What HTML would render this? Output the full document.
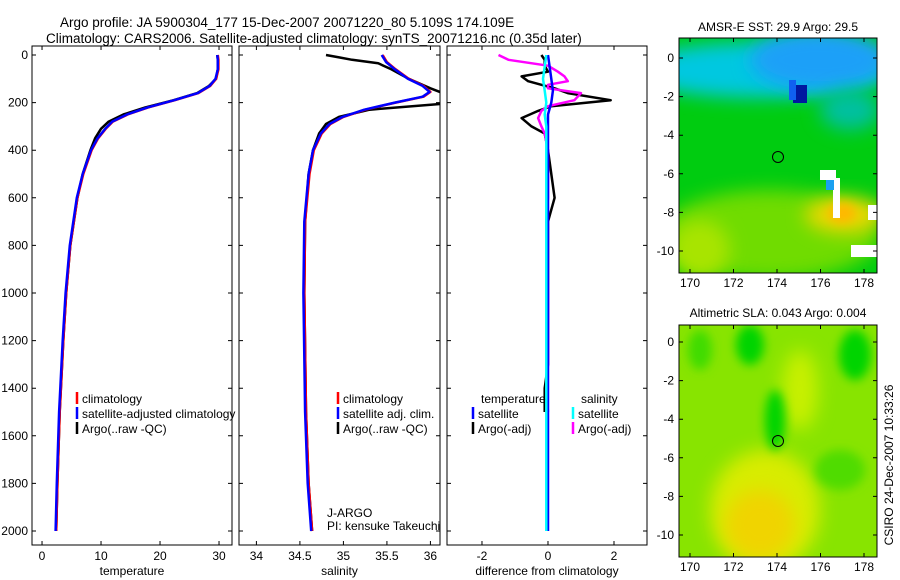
<!DOCTYPE html>
<html><head><meta charset="utf-8"><style>
body{margin:0;background:#fff}
svg{display:block;font-family:"Liberation Sans",sans-serif;font-size:12px}
</style></head><body>
<svg id="fig" width="900" height="580" viewBox="0 0 900 580">
<defs>
<filter id="bl" x="-50%" y="-50%" width="200%" height="200%"><feGaussianBlur stdDeviation="9"/></filter>
<filter id="bl2" x="-50%" y="-50%" width="200%" height="200%"><feGaussianBlur stdDeviation="5"/></filter>
<clipPath id="c1"><rect x="679" y="38" width="198" height="235"/></clipPath>
<clipPath id="c2"><rect x="679" y="325" width="198" height="232"/></clipPath>
<clipPath id="p1"><rect x="32" y="46" width="200" height="499"/></clipPath>
<clipPath id="p2"><rect x="239" y="46" width="201" height="499"/></clipPath>
<clipPath id="p3"><rect x="447" y="46" width="200" height="499"/></clipPath>
</defs>
<text x="60" y="27" font-size="13.5">Argo profile: JA 5900304_177 15-Dec-2007 20071220_80 5.109S 174.109E</text>
<text x="46" y="43" font-size="13.5">Climatology: CARS2006. Satellite-adjusted climatology: synTS_20071216.nc (0.35d later)</text>

<!-- SST map -->
<g clip-path="url(#c1)">
<rect x="679" y="38" width="198" height="235" fill="#00cc10"/>
<ellipse cx="770" cy="235" rx="110" ry="45" fill="#70dc00" filter="url(#bl)"/>
<ellipse cx="700" cy="250" rx="30" ry="30" fill="#a8e400" filter="url(#bl)"/>
<ellipse cx="845" cy="215" rx="40" ry="18" fill="#e8d800" filter="url(#bl)"/>
<ellipse cx="842" cy="213" rx="14" ry="10" fill="#ffb800" filter="url(#bl2)"/>
<ellipse cx="760" cy="70" rx="130" ry="28" fill="#00c8e0" filter="url(#bl)"/>
<ellipse cx="820" cy="60" rx="70" ry="30" fill="#1ea0f8" filter="url(#bl)"/>
<ellipse cx="850" cy="110" rx="30" ry="20" fill="#00c0a0" filter="url(#bl)"/>
<rect x="793" y="85" width="14" height="18" fill="#0018a0"/>
<rect x="789" y="80" width="7" height="20" fill="#1060f0"/>
<rect x="820" y="170" width="16" height="10" fill="#fff"/>
<rect x="833" y="178" width="7" height="40" fill="#fff"/>
<rect x="826" y="180" width="8" height="10" fill="#1aa0f0"/>
<rect x="851" y="245" width="26" height="12" fill="#fff"/>
<rect x="868" y="205" width="9" height="15" fill="#fff"/>
</g>
<rect x="679" y="38" width="198" height="235" fill="none" stroke="#000"/>
<circle cx="778" cy="157" r="5.5" fill="none" stroke="#000"/>
<text x="778" y="31" text-anchor="middle">AMSR-E SST: 29.9 Argo: 29.5</text>

<!-- SLA map -->
<g clip-path="url(#c2)">
<rect x="679" y="325" width="198" height="232" fill="#88e400"/>
<ellipse cx="765" cy="510" rx="55" ry="60" fill="#d8ec00" filter="url(#bl)"/>
<ellipse cx="760" cy="525" rx="35" ry="35" fill="#f0d400" filter="url(#bl)"/>
<ellipse cx="800" cy="390" rx="18" ry="40" fill="#c8f000" filter="url(#bl)"/>
<ellipse cx="775" cy="420" rx="10" ry="30" fill="#00d400" filter="url(#bl2)"/>
<ellipse cx="750" cy="345" rx="14" ry="20" fill="#00d400" filter="url(#bl2)"/>
<ellipse cx="855" cy="355" rx="16" ry="25" fill="#00d400" filter="url(#bl2)"/>
<ellipse cx="700" cy="350" rx="12" ry="20" fill="#40dc00" filter="url(#bl2)"/>
<ellipse cx="840" cy="470" rx="25" ry="20" fill="#50dc00" filter="url(#bl2)"/>
</g>
<rect x="679" y="325" width="198" height="232" fill="none" stroke="#000"/>
<circle cx="778" cy="441" r="5.5" fill="none" stroke="#000"/>
<text x="778" y="317" text-anchor="middle">Altimetric SLA: 0.043 Argo: 0.004</text>
<text transform="translate(893,465) rotate(-90)" text-anchor="middle">CSIRO 24-Dec-2007 10:33:26</text>

<g id="dyn"></g>
</svg>
<script>
const depthTicks=[0,200,400,600,800,1000,1200,1400,1600,1800,2000];
const tempTicks=[0,10,20,30];
const salTicks=[34,34.5,35,35.5,36];
const diffTicks=[-2,0,2];
const lonTicks=[170,172,174,176,178];
const latTicks=[0,-2,-4,-6,-8,-10];

const tempDepth=[0,20,60,100,130,160,190,220,250,280,310,350,400,500,600,800,1000,1200,1500,1800,2000];
const tempClim=[29.8,29.9,29.9,29.5,28.5,26.5,22.5,18,14.5,12,10.8,9.5,8.4,7,6,4.8,4.1,3.6,3,2.6,2.4];
const tempArgo=[29.7,29.8,29.8,29.5,28.3,26.3,22.3,17.5,13.8,11.3,10,9,8.2,6.9,6,4.8,4.1,3.6,3,2.6,2.4];

const salDepth=[0,30,60,100,130,155,175,200,230,260,290,330,400,500,700,1000,1500,1800,2000];
const salClim=[35.45,35.5,35.6,35.75,35.92,36.0,35.92,35.6,35.25,35.0,34.85,34.75,34.66,34.61,34.56,34.55,34.57,34.6,34.64];
const argoSalDepth=[0,10,20,35,60,100,140,175,190,200,230,260,290,330,400,500,700,1000,1500,1800,2000];
const salArgo=[34.8,34.95,35.1,35.4,35.55,35.75,36.0,36.25,36.3,36.3,35.3,34.95,34.8,34.72,34.65,34.6,34.56,34.55,34.57,34.6,34.64];

const diffDepth=[0,20,45,70,90,110,125,140,160,190,215,235,265,300,330,400,600,700,1000,1300,1400,1500];
const tempDiffArgo=[-0.2,-0.1,-0.1,0.0,-0.8,-0.6,-0.2,0.2,0.6,1.9,0.1,-0.3,-0.8,-0.5,-0.1,0.0,0.2,0.0,0.0,0.0,-0.1,-0.1];
const salDiffArgo=[-1.5,-1.2,0.0,0.3,0.5,0.6,0.0,0.0,1.0,0.8,0.0,-0.2,-0.3,-0.2,-0.1,0.0,0.0,-0.05,0.0,0.0,-0.05,0.0];
const satDepth=[0,100,150,200,250,300,2000];
const tempDiffSat=[0.0,0.1,0.15,0.1,0.0,0.0,0.0];
const salDiffSat=[-0.05,-0.15,-0.1,-0.05,-0.1,-0.05,-0.05];

const NS='http://www.w3.org/2000/svg';
const dyn=document.getElementById('dyn');
function mk(tag,at,parent){const e=document.createElementNS(NS,tag);for(const k in at)e.setAttribute(k,at[k]);(parent||dyn).appendChild(e);return e;}
const yD=d=>55+d*0.238;
const panels=[
 {x0:32,x1:232,v0:-1.7,v1:32.2,ticks:tempTicks,label:'temperature',clip:'p1',name:'temperature-panel'},
 {x0:239,x1:440,v0:33.8,v1:36.11,ticks:salTicks,label:'salinity',clip:'p2',name:'salinity-panel'},
 {x0:447,x1:647,v0:-3.06,v1:3,ticks:diffTicks,label:'difference from climatology',clip:'p3',name:'difference-panel'}];
panels.forEach(p=>{p.sx=v=>p.x0+(v-p.v0)/(p.v1-p.v0)*(p.x1-p.x0);});

panels.forEach((p,i)=>{
  const r=mk('rect',{x:p.x0,y:46,width:p.x1-p.x0,height:499,fill:'none',stroke:'#000'});
  
  
  depthTicks.forEach(d=>{
    const y=yD(d);
    const t=mk('path',{d:`M${p.x0},${y}h4M${p.x1},${y}h-4`,stroke:'#000'});
    
    
    if(i===0){const l=mk('text',{x:p.x0-4,y:y+4,'text-anchor':'end'});l.textContent=d;
      
      }
  });
  p.ticks.forEach(v=>{
    const x=p.sx(v);
    const t=mk('path',{d:`M${x},46v4M${x},545v-4`,stroke:'#000'});
    
    
    const l=mk('text',{x:x,y:560,'text-anchor':'middle'});l.textContent=v;
    
    
  });
  const xl=mk('text',{x:(p.x0+p.x1)/2,y:575,'text-anchor':'middle'});xl.textContent=p.label;
  
  
});
function line(p,ds,vs,col,w,name){
  const pts=ds.map((d,k)=>p.sx(vs[k]).toFixed(1)+','+yD(d).toFixed(1)).join(' ');
  const e=mk('polyline',{points:pts,fill:'none',stroke:col,'stroke-width':w,'clip-path':'url(#'+p.clip+')','stroke-linejoin':'round'});
  
  
}
const P=panels;
line(P[0],tempDepth,tempArgo,'#000',2.5,'temp-argo-line');
line(P[0],tempDepth,tempClim,'#f00',2.5,'temp-climatology-line');
line(P[0],tempDepth,tempClim.map(v=>v-0.1),'#00f',2.5,'temp-satellite-line');
line(P[1],argoSalDepth,salArgo,'#000',2.5,'salinity-argo-line');
line(P[1],salDepth,salClim,'#f00',2.5,'salinity-climatology-line');
line(P[1],salDepth,salClim.map(v=>v-0.01),'#00f',2.5,'salinity-satellite-line');
line(P[2],diffDepth,tempDiffArgo,'#000',2.5,'temp-diff-argo-line');
line(P[2],diffDepth,salDiffArgo,'#f0f',2.5,'salinity-diff-argo-line');
line(P[2],satDepth,tempDiffSat,'#00f',2.5,'temp-diff-satellite-line');
line(P[2],satDepth,salDiffSat,'#0ff',2.5,'salinity-diff-satellite-line');

function legend(x,y,col,txt,name){
  const m=mk('path',{d:`M${x},${y-9}v12`,stroke:col,'stroke-width':2.5});
  
  
  const t=mk('text',{x:x+5,y:y+2});t.textContent=txt;
  
  
}
legend(77,401,'#f00','climatology','legend-climatology');
legend(77,416,'#00f','satellite-adjusted climatology','legend-satellite-adjusted');
legend(77,431,'#000','Argo(..raw -QC)','legend-argo');
legend(338,401,'#f00','climatology','legend-sal-climatology');
legend(338,416,'#00f','satellite adj. clim.','legend-sal-satellite');
legend(338,431,'#000','Argo(..raw -QC)','legend-sal-argo');
const th=mk('text',{x:481,y:403});th.textContent='temperature';


const sh=mk('text',{x:581,y:403});sh.textContent='salinity';


legend(473,416,'#00f','satellite','legend-temp-satellite');
legend(473,431,'#000','Argo(-adj)','legend-temp-argo');
legend(573,416,'#0ff','satellite','legend-sal-satellite-diff');
legend(573,431,'#f0f','Argo(-adj)','legend-sal-argo-diff');
const j1=mk('text',{x:327,y:517});j1.textContent='J-ARGO';


const j2=mk('text',{x:327,y:530});j2.textContent='PI: kensuke Takeuchi';



// map axes
[{x0:679,x1:877,y0:38,y1:273,lat0:58,name:'sst'},{x0:679,x1:877,y0:325,y1:557,lat0:342,name:'sla'}].forEach(m=>{
  const lx=lon=>690+(lon-170)*21.75;
  const ly=lat=>m.lat0-lat*19.3;
  lonTicks.forEach(v=>{
    const x=lx(v);
    const t=mk('path',{d:`M${x},${m.y0}v4M${x},${m.y1}v-4`,stroke:'#000'});
    
    
    const l=mk('text',{x:x,y:m.y1+14,'text-anchor':'middle'});l.textContent=v;
    
    
  });
  latTicks.forEach(v=>{
    const y=ly(v);
    const t=mk('path',{d:`M${m.x0},${y}h4M${m.x1},${y}h-4`,stroke:'#000'});
    
    
    const l=mk('text',{x:m.x0-5,y:y+4,'text-anchor':'end'});l.textContent=v;
    
    
  });
});
</script>
</body></html>
